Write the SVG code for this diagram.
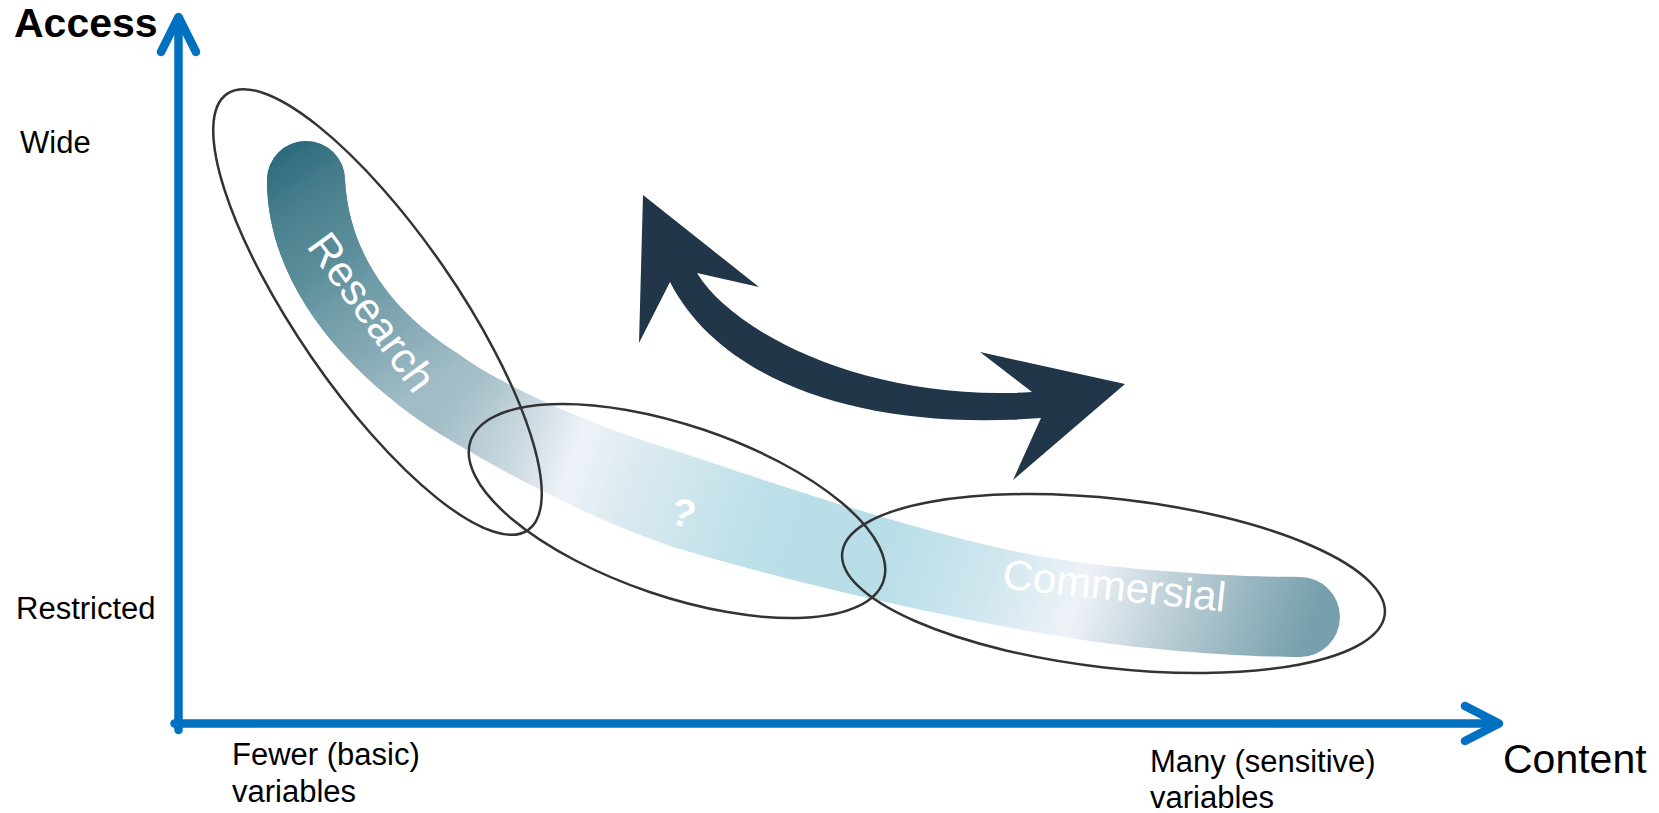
<svg xmlns="http://www.w3.org/2000/svg" width="1659" height="813" viewBox="0 0 1659 813">
<style>
.lbl{font-family:"Liberation Sans",Arial,sans-serif;fill:#000;font-size:31px}
.big{font-family:"Liberation Sans",Arial,sans-serif;fill:#000;font-size:41px}
.band{font-family:"Liberation Sans",Arial,sans-serif;fill:#fff}
.ell{fill:none;stroke:#333;stroke-width:2.5}
.axis{fill:none;stroke:#0070C0;stroke-width:8.5;stroke-linecap:round;stroke-linejoin:round}
</style>
<defs>
<linearGradient id="bandGrad" gradientUnits="userSpaceOnUse" x1="262" y1="150" x2="1345" y2="530">
<stop offset="0" stop-color="#2b6a7b"/>
<stop offset="0.08" stop-color="#4d8391"/>
<stop offset="0.13" stop-color="#6f9ba7"/>
<stop offset="0.22" stop-color="#a2bdc6"/>
<stop offset="0.30" stop-color="#cddbe2"/>
<stop offset="0.345" stop-color="#eef2f8"/>
<stop offset="0.40" stop-color="#dbeaf0"/>
<stop offset="0.52" stop-color="#bcdfe8"/>
<stop offset="0.62" stop-color="#b7dde7"/>
<stop offset="0.72" stop-color="#cfe6ee"/>
<stop offset="0.80" stop-color="#eef2f8"/>
<stop offset="0.87" stop-color="#c2d3da"/>
<stop offset="0.94" stop-color="#98b6c0"/>
<stop offset="1" stop-color="#76a0ad"/>
</linearGradient>
<linearGradient id="limbGrad" gradientUnits="userSpaceOnUse" x1="280" y1="150" x2="470" y2="440">
<stop offset="0" stop-color="#2b6a7b"/>
<stop offset="0.17" stop-color="#4a808e"/>
<stop offset="0.35" stop-color="#5b8e9a"/>
<stop offset="0.45" stop-color="#6c9aa6"/>
<stop offset="0.6" stop-color="#82a7b2"/>
<stop offset="0.8" stop-color="#a0bcc6"/>
<stop offset="1" stop-color="#a6c0c9" stop-opacity="0"/>
</linearGradient>
<path id="bandShape" d="M267,180 A39,39 0 0 1 345,180 C350,270 412,325 457,353 C500,385 590,425 673,450 C800,492 950,543 1063,560 C1130,570 1230,577 1300,577 A40,40 0 0 1 1300,657 C1230,657 1130,648 1063,637 C950,618 800,585 673,547 C580,515 500,470 440,434 C340,370 267,280 267,180 Z"/>
</defs>

<g id="band">
<use href="#bandShape" fill="url(#bandGrad)"/>
<use href="#bandShape" fill="url(#limbGrad)"/>
<text class="band" font-size="43" text-anchor="middle" transform="translate(372,312) rotate(54)" x="0" y="15">Research</text>
<text class="band" font-size="39" font-weight="bold" text-anchor="middle" transform="translate(680,526) rotate(15)" x="0" y="0">?</text>
<text class="band" font-size="42" text-anchor="middle" transform="translate(1113,600) rotate(6)" x="0" y="0">Commersial</text>
</g>

<g id="ellipse-research">
<ellipse class="ell" cx="377.5" cy="312" rx="265" ry="80" transform="rotate(55.4 377.5 312)"/>
</g>
<g id="ellipse-middle">
<ellipse class="ell" cx="677" cy="511" rx="218" ry="85.5" transform="rotate(18.75 677 511)"/>
</g>
<g id="ellipse-commercial">
<ellipse class="ell" cx="1113.5" cy="583.5" rx="273" ry="84.5" transform="rotate(6.5 1113.5 583.5)"/>
</g>

<g id="double-arrow">
<path fill="#213649" d="M643,195 L759,287 L697,273 C735,335 870,402 1032,392 L980,352 L1125,384 L1013,480 L1041,418 C860,432 720,380 670,282 L639,343 Z"/>
</g>

<g id="connectors">
<path class="axis" stroke-linecap="butt" d="M178.5,730 L178.5,20"/>
<path class="axis" d="M161,52 L178.5,17 L196,52"/>
<path class="axis" stroke-linecap="butt" d="M174.5,723.5 L1496,723.5"/>
<path class="axis" d="M1465,706 L1499,723.5 L1465,741"/>
</g>

<g id="labels">
<text class="big" font-weight="bold" x="14" y="37">Access</text>
<text class="lbl" x="20" y="153">Wide</text>
<text class="lbl" x="16" y="619">Restricted</text>
<text class="lbl" x="232" y="765">Fewer (basic)</text>
<text class="lbl" x="232" y="802">variables</text>
<text class="lbl" x="1150" y="772">Many (sensitive)</text>
<text class="lbl" x="1150" y="808">variables</text>
<text class="big" x="1503" y="773">Content</text>
</g>
</svg>
